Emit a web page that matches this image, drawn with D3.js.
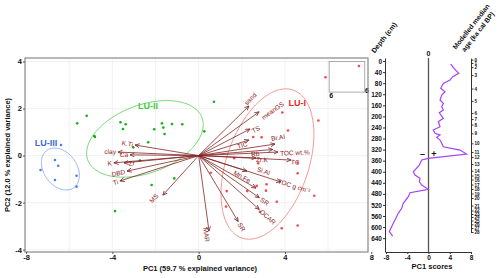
<!DOCTYPE html>
<html>
<head>
<meta charset="utf-8">
<script src="https://cdn.jsdelivr.net/npm/d3@7"></script>
<style>
body { margin: 0; background: #fff; }
svg { display: block; font-family: "Liberation Sans", Arial, sans-serif; }
</style>
</head>
<body>
<script>
// ---- PCA scores, one pair of arrays per lithological unit ----
var lu1X = [7.43, 5.88, 3.88, 5.55, 4.14, 2.53, 2.92, 1.65, 2.76, 4.59, 4.59, 0.56, 5.36, 3.15, 2.69, 2.25, 1.30, 3.12, 3.62, 2.84, 1.27, 3.85, 4.59];
var lu1Y = [3.81, 3.33, 1.83, 1.49, 1.07, 0.79, 0.78, -0.11, -0.33, -0.30, -0.75, -0.73, -1.71, -1.22, -1.29, -1.51, -1.51, -1.49, -1.96, -2.39, -2.17, -3.09, -2.97];
var lu2X = [-5.63, -5.19, -4.84, -4.81, -3.62, -3.38, -3.51, -2.06, -1.70, -1.64, -1.24, -0.76, -1.58, 0.71, 0.26, -2.34, -3.03, -2.72, -1.13, -2.18, -3.88];
var lu2Y = [1.37, 1.69, 0.83, 0.79, 1.42, 1.33, 1.13, 1.12, 1.37, 1.19, 1.34, 1.33, 0.92, 2.29, 1.03, 0.57, 0.35, -0.21, -0.97, -1.25, -2.36];
var lu3X = [-6.38, -6.66, -6.51, -7.33, -6.66, -5.66, -5.66];
var lu3Y = [0.45, -0.19, -0.43, -0.61, -1.04, -0.86, -1.32];

// ellipses: centre and two conjugate semi-axes (data units)
var ell1 = {c: [3.19, -0.36], a: [1.18, 3.15], b: [1.80, -0.55]};
var ell2 = {c: [-2.49, 0.71], a: [2.60, 0.17], b: [0.74, 1.62]};
var ell3 = {c: [-6.41, -0.57], a: [0.88, -0.27], b: [0.00, 0.85]};

// ---- loadings ----
var loadNames = ["sand", "meanGS", "TS", "TIC", "Br.Al", "Rb", "TOC wt.%", "TC", "Zr.K", "Si.Al", "TOC g cm\u207B\u00B3", "Mn.Fe", "SR", "OCAR", "SR", "MAR",
                 "K.Ti", "clay", "Ca", "K", "Zr", "DBD", "Ti", "MS"];
var loadX = [2.33, 2.80, 2.38, 2.33, 3.54, 3.44, 3.68, 4.28, 2.66, 2.24, 3.81, 2.66, 2.81, 2.81, 1.83, 0.48,
             -2.95, -3.74, -3.18, -3.93, -3.46, -3.32, -3.65, -1.66];
var loadY = [2.11, 1.86, 1.13, 0.66, 0.49, 0.26, 0.15, -0.19, -0.10, -0.66, -1.12, -1.38, -1.79, -2.29, -2.80, -3.21,
             0.45, 0.15, 0.03, -0.31, -0.31, -0.66, -1.08, -1.68];

// ---- down-core PC1 scores ----
var coreDepth = [10.8, 26.4, 44.4, 56.7, 68.6, 80.6, 98.6, 110.9, 122.8, 140.9, 152.8, 165.1, 177.0, 186.8, 207.0, 219.3, 237.4, 249.3, 261.2, 267.4, 275.7, 285.4,
                 297.4, 309.6, 321.6, 336.0, 351.5, 357.7, 375.8, 400.0, 411.9, 423.8, 436.1, 448.0, 463.5, 475.8, 490.3, 514.1, 532.2, 550.3, 574.5, 586.4, 616.7, 632.3];
var coreScore = [4.18, 4.80, 5.69, 4.56, 4.05, 2.79, 2.30, 3.11, 2.49, 2.17, 2.79, 2.49, 2.79, 2.03, 2.79, 1.85, 2.17, 0.90, 1.22, 2.17, 1.54, 2.17,
                 2.49, 2.79, 5.93, 7.16, -0.04, -1.28, -1.73, -2.86, -2.54, -1.60, -1.73, -1.28, -0.04, -3.48, -3.80, -4.75, -5.05, -5.69, -6.31, -6.63, -7.38, -6.74];

// age model tick marks (ka cal BP) and their depths (cm)
var ageLabels = [0, 1, 2, 3, 4, 5, 6, 7, 8, 9, 10, 11, 12, 13, 14, 15, 16, 17, 18, 19, 20, 21, 22, 23, 24, 25, 26, 27, 28];
var ageDepth = [-5, 7, 22, 50.6, 99.4, 144.5, 187.9, 209.6, 229.4, 261.2, 297.4, 328.8, 346.8, 372.1, 396.3, 413.7, 428.1, 446.2, 462.5, 478.7,
                495.0, 522.1, 540.1, 552.8, 563.6, 576.3, 590.0, 603.4, 617.8];

var pcTicks = [-8, -4, 0, 4, 8];
var pc2Ticks = [-4, -2, 0, 2, 4];
var depthTicks = d3.range(0, 641, 40);

// label nudges for loadings [along arrow, across arrow] in px
var labelNudge = {
    "sand": [-3, -4], "meanGS": [-3, 7], "TS": [-1, 3], "TIC": [-15, 3], "Br.Al": [-5, -6], "Rb": [-24, 3],
    "TOC wt.%": [0, 1.5], "TC": [-2, 2], "Zr.K": [-2, 1.5], "Si.Al": [7, -5], "TOC g cm\u207B\u00B3": [-5, 0],
    "Mn.Fe": [-29, -3], "MAR": [-6, 3], "Zr": [-12.5, -1], "MS": [1.5, 4.5]
};

var width = 500, height = 278;
var svg = d3.select("body").append("svg")
    .attr("width", width)
    .attr("height", height);

var bold = function (sel, size) {
    sel.attr("font-weight", "bold").attr("font-size", size).attr("fill", "#111");
};

// ================= biplot =================
var x = d3.scaleLinear().domain([-8.05, 7.85]).range([25, 368]);
var y = d3.scaleLinear().domain([-4.1, 4.15]).range([252, 58]);

var grid = svg.append("g");
grid.selectAll(".vg").data(d3.range(-6, 7, 2)).enter().append("line")
    .attr("x1", function (d) { return x(d); }).attr("x2", function (d) { return x(d); })
    .attr("y1", 58).attr("y2", 252)
    .attr("stroke", "#ececec").attr("stroke-width", 0.7);
grid.selectAll(".hg").data(pc2Ticks).enter().append("line")
    .attr("y1", function (d) { return y(d); }).attr("y2", function (d) { return y(d); })
    .attr("x1", 25).attr("x2", 368)
    .attr("stroke", "#ececec").attr("stroke-width", 0.7);

// odd little inset box in the upper right corner
svg.append("rect")
    .attr("x", x(6.05)).attr("y", y(4.0))
    .attr("width", x(7.7) - x(6.05)).attr("height", y(2.7) - y(4.0))
    .attr("fill", "none").attr("stroke", "#999").attr("stroke-width", 0.8);
svg.append("text").attr("x", x(6.05) + 2).attr("y", y(2.7) + 6).attr("text-anchor", "middle").text("6").call(bold, 7);
svg.append("text").attr("x", 367).attr("y", y(2.7) + 1).attr("text-anchor", "middle").text("6").call(bold, 7);

var groups = [
    {name: "LU-I", xs: lu1X, ys: lu1Y, ell: ell1, pt: "#f24a4a", ring: "#f39a95", txt: "#e82828", at: [4.57, 2.24]},
    {name: "LU-II", xs: lu2X, ys: lu2Y, ell: ell2, pt: "#16b016", ring: "#7ad67a", txt: "#3ccc3c", at: [-2.35, 2.11]},
    {name: "LU-III", xs: lu3X, ys: lu3Y, ell: ell3, pt: "#4a7de8", ring: "#93b4ee", txt: "#3a6ad8", at: [-7.08, 0.54]}
];

var ellLine = d3.line();
groups.forEach(function (g) {
    var e = g.ell;
    var pts = d3.range(0, 121).map(function (i) {
        var t = i / 120 * 2 * Math.PI;
        return [x(e.c[0] + e.a[0] * Math.cos(t) + e.b[0] * Math.sin(t)),
                y(e.c[1] + e.a[1] * Math.cos(t) + e.b[1] * Math.sin(t))];
    });
    svg.append("path").attr("d", ellLine(pts))
        .attr("fill", "none").attr("stroke", g.ring).attr("stroke-width", 1);
});

groups.forEach(function (g) {
    svg.append("g").selectAll("circle").data(g.xs).enter().append("circle")
        .attr("cx", function (d) { return x(d); })
        .attr("cy", function (d, i) { return y(g.ys[i]); })
        .attr("r", 1.3)
        .attr("fill", g.pt);
    svg.append("text")
        .attr("x", x(g.at[0])).attr("y", y(g.at[1]))
        .attr("dy", "0.35em").attr("text-anchor", "middle")
        .attr("font-weight", "bold").attr("font-size", 9)
        .attr("fill", g.txt).text(g.name);
});

// arrows
svg.append("defs").append("marker")
    .attr("id", "head").attr("markerUnits", "userSpaceOnUse")
    .attr("markerWidth", 6).attr("markerHeight", 6)
    .attr("refX", 4.5).attr("refY", 2.5).attr("orient", "auto")
    .append("path").attr("d", "M0,0.5L4.5,2.5L0,4.5")
    .attr("fill", "none").attr("stroke", "#832424").attr("stroke-width", 0.8);

var ox = x(0), oy = y(0);
var arrows = svg.append("g");
loadNames.forEach(function (name, i) {
    var tx = x(loadX[i]), ty = y(loadY[i]);
    arrows.append("line")
        .attr("x1", ox).attr("y1", oy).attr("x2", tx).attr("y2", ty)
        .attr("stroke", "#832424").attr("stroke-width", 0.8)
        .attr("marker-end", "url(#head)");

    var len = Math.hypot(tx - ox, ty - oy);
    var ux = (tx - ox) / len, uy = (ty - oy) / len;
    var ang = Math.atan2(uy, ux) * 180 / Math.PI;
    if (ux < 0) ang += 180;
    var t = arrows.append("text")
        .attr("text-anchor", "middle").attr("dy", "0.35em")
        .attr("font-size", 6.5).attr("fill", "#8b1a1a")
        .text(name);
    var w = t.node().getComputedTextLength();
    var nud = labelNudge[name] || [0, 0];
    var along = w / 2 + 2 + nud[0];
    var cx = tx + along * ux + nud[1] * (-uy);
    var cy = ty + along * uy + nud[1] * ux;
    t.attr("transform", "translate(" + cx + "," + cy + ") rotate(" + ang + ")");
});

// frame + axes
svg.append("rect").attr("x", 25).attr("y", 58).attr("width", 343).attr("height", 194)
    .attr("fill", "none").attr("stroke", "#888").attr("stroke-width", 1.2);

var fmt = function (d) { return String(d); };
var xAxis = svg.append("g").attr("transform", "translate(0,252)")
    .call(d3.axisBottom(x).tickValues(pcTicks).tickFormat(fmt).tickSize(2).tickPadding(1).tickSizeOuter(0));
var yAxis = svg.append("g").attr("transform", "translate(25,0)")
    .call(d3.axisLeft(y).tickValues(pc2Ticks).tickFormat(fmt).tickSize(2).tickPadding(1).tickSizeOuter(0));
[xAxis, yAxis].forEach(function (a) {
    a.select(".domain").remove();
    a.selectAll(".tick line").attr("stroke", "#555");
    a.selectAll("text").call(bold, 7.5).attr("font-family", null);
});

svg.append("text").attr("x", 200).attr("y", 271).attr("text-anchor", "middle")
    .text("PC1 (59.7 % explained variance)").call(bold, 7.5);
svg.append("text").attr("transform", "translate(10,155) rotate(-90)").attr("text-anchor", "middle")
    .text("PC2 (12.0 % explained variance)").call(bold, 7.5);

// ================= down-core profile =================
var dY = d3.scaleLinear().domain([-11, 690]).range([58, 252]);
var sX = d3.scaleLinear().domain([-8, 8]).range([386, 471]);

svg.append("line").attr("x1", sX(0)).attr("x2", sX(0)).attr("y1", 58).attr("y2", 252)
    .attr("stroke", "#555").attr("stroke-width", 1.3);
svg.append("text").attr("x", sX(0)).attr("y", 56).attr("text-anchor", "middle").text("0").call(bold, 7);
svg.append("text").attr("x", sX(0) - 6).attr("y", 154).attr("dy", "0.35em").attr("text-anchor", "middle").text("\u2013").call(bold, 9);
svg.append("text").attr("x", sX(0) + 5.5).attr("y", 154).attr("dy", "0.35em").attr("text-anchor", "middle").text("+").call(bold, 9);

var profLine = d3.line()
    .x(function (d, i) { return sX(coreScore[i]); })
    .y(function (d) { return dY(d); });
svg.append("path").attr("d", profLine(coreDepth))
    .attr("fill", "none").attr("stroke", "#a445f5").attr("stroke-width", 1.2);

var dAxis = svg.append("g").attr("transform", "translate(385,0)")
    .call(d3.axisLeft(dY).tickValues(depthTicks).tickSize(2).tickPadding(1).tickSizeOuter(0));
var bAxis = svg.append("g").attr("transform", "translate(0,252)")
    .call(d3.axisBottom(sX).tickValues(pcTicks).tickFormat(fmt).tickSize(2).tickPadding(1).tickSizeOuter(0));
var aAxis = svg.append("g").attr("transform", "translate(471.5,0)")
    .call(d3.axisRight(dY).tickValues(ageDepth).tickFormat(function (d, i) { return ageLabels[i]; })
        .tickSize(2).tickPadding(1).tickSizeOuter(0));
aAxis.select(".domain").remove();
svg.append("line").attr("x1", 471.5).attr("x2", 471.5)
    .attr("y1", dY(ageDepth[0]) - 1).attr("y2", dY(ageDepth[ageDepth.length - 1]) + 1)
    .attr("stroke", "#333").attr("stroke-width", 1);

[dAxis, bAxis, aAxis].forEach(function (a) {
    a.selectAll(".domain").attr("stroke", "#333").attr("stroke-width", 1);
    a.selectAll(".tick line").attr("stroke", "#333");
    a.selectAll("text").call(bold, 6.5).attr("font-family", null);
});
// the age labels are packed tightly in the original, keep them tiny
aAxis.selectAll("text").attr("font-size", 4.6);

svg.append("text").attr("transform", "translate(386,39) rotate(-52)").attr("text-anchor", "middle")
    .text("Depth (cm)").call(bold, 7);
var ageTitle = svg.append("text").attr("transform", "translate(473,28) rotate(-52)")
    .attr("text-anchor", "middle").call(bold, 6.8);
ageTitle.append("tspan").attr("x", 0).attr("y", 0).text("Modelled median");
ageTitle.append("tspan").attr("x", 0).attr("y", 8.5).text("age (ka cal BP)");

svg.append("text").attr("x", 432).attr("y", 269).attr("text-anchor", "middle")
    .text("PC1 scores").call(bold, 7.5);
</script>
</body>
</html>
